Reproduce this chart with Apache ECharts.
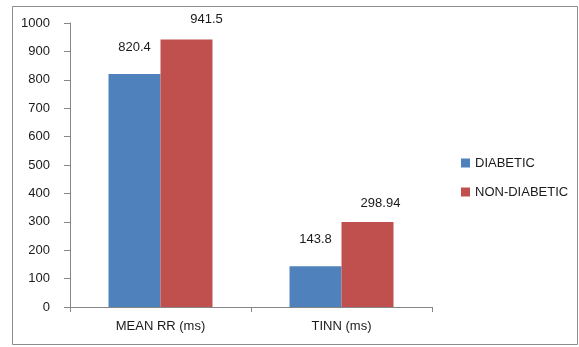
<!DOCTYPE html>
<html>
<head>
<meta charset="utf-8">
<script src="https://cdn.jsdelivr.net/npm/echarts@6/dist/echarts.min.js"></script>
<style>
  html, body { margin: 0; padding: 0; background: #fff; }
  #chart { width: 579px; height: 347px; }
</style>
</head>
<body>
<div id="chart"></div>
<script>
// HRV measures for the two groups
const categories = ['MEAN RR (ms)', 'TINN (ms)'];
const seriesNames = ['DIABETIC', 'NON-DIABETIC'];
const diabetic = [820.4, 143.8];
const nonDiabetic = [941.5, 298.94];
const yTicks = { min: 0, max: 1000, step: 100 };

// Label placement tweaks (x shift, distance above bar) per series and category
const labelPlacement = {
  'DIABETIC': [[0, 20], [0, 20]],
  'NON-DIABETIC': [[20, 14], [13, 12]]
};

const colors = ['#4F81BD', '#C0504D'];
const font = 'Liberation Sans, Arial, sans-serif';
const textColor = '#1a1a1a';

function buildSeries(name, values, color) {
  return {
    name: name,
    type: 'bar',
    barWidth: 52,
    barGap: '0%',
    itemStyle: { color: color },
    data: values.map((v, i) => {
      const p = labelPlacement[name][i];
      return {
        value: v,
        label: { show: true, position: 'top', distance: p[1], offset: [p[0], 0] }
      };
    }),
    label: { color: textColor, fontFamily: font, fontSize: 13 }
  };
}

const chart = echarts.init(document.getElementById('chart'), null, { renderer: 'canvas' });
chart.setOption({
  animation: false,
  backgroundColor: '#fff',
  textStyle: { fontFamily: font },
  graphic: [{
    type: 'rect',
    shape: { x: 12.5, y: 6.5, width: 565, height: 338 },
    style: { fill: 'none', stroke: '#8c8c8c', lineWidth: 1 },
    silent: true
  }],
  grid: { left: 70, right: 147, top: 23, bottom: 40 },
  legend: {
    orient: 'vertical',
    left: 456,
    top: 151,
    itemWidth: 9,
    itemHeight: 9,
    itemGap: 15,
    icon: 'rect',
    data: seriesNames,
    textStyle: { color: textColor, fontSize: 13, fontFamily: font, lineHeight: 14 }
  },
  xAxis: {
    type: 'category',
    data: categories,
    axisLine: { lineStyle: { color: '#868686' } },
    axisTick: { show: true, length: 5, lineStyle: { color: '#868686' } },
    axisLabel: { color: textColor, fontSize: 13, fontFamily: font, margin: 13 }
  },
  yAxis: {
    type: 'value',
    min: yTicks.min,
    max: yTicks.max,
    interval: yTicks.step,
    axisLine: { show: true, lineStyle: { color: '#868686' } },
    axisTick: { show: true, length: 6, lineStyle: { color: '#868686' } },
    axisLabel: { color: textColor, fontSize: 13, fontFamily: font, margin: 20, formatter: v => String(v) },
    splitLine: { show: false }
  },
  series: [
    buildSeries(seriesNames[0], diabetic, colors[0]),
    buildSeries(seriesNames[1], nonDiabetic, colors[1])
  ]
});
</script>
</body>
</html>
